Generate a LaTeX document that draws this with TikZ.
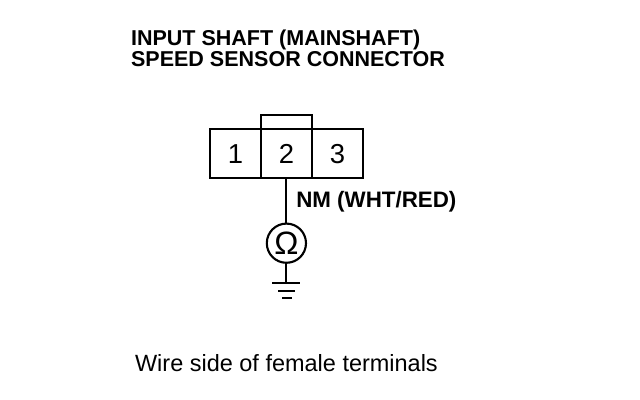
\documentclass[tikz,border=0pt]{standalone}
\usepackage{fontspec}
\setmainfont{Liberation Sans}
\usetikzlibrary{positioning}
\tikzset{
  pinbox/.style={draw, line width=1.5pt, outer sep=0pt, minimum width=1.275cm, minimum height=1.225cm, inner sep=0pt, font=\fontsize{19.5}{20}\selectfont},
  wire/.style={line width=1.5pt},
  titletext/.style={font=\bfseries\fontsize{15.3}{15.6}\selectfont, align=left, inner sep=0pt},
}
\begin{document}
\begin{tikzpicture}
\useasboundingbox (0,0) rectangle (16,10);
\node[titletext, anchor=north west] (title) at (3.27,9.27) {INPUT SHAFT (MAINSHAFT)\\SPEED SENSOR CONNECTOR};

\node[pinbox] (pin2) at (7.16,6.16) {2};
\node[pinbox, left=0pt of pin2] (pin1) {1};
\node[pinbox, right=0pt of pin2] (pin3) {3};
\coordinate (tabl) at (6.5225,7.125);
\coordinate (tabr) at (7.7975,7.125);
\draw[wire] (pin2.north west)--(tabl)--(tabr)--(pin2.north east);

\node[draw, circle, line width=1.5pt, outer sep=0pt, minimum size=0.98cm, inner sep=0pt, font=\fontsize{23}{24}\selectfont] (ohm) at (7.16,3.92) {Ω};
\draw[wire] (pin2.south)--(ohm.north);
\node[anchor=west, inner sep=0pt, font=\bfseries\fontsize{15.9}{16}\selectfont] (wirelabel) at (7.4,4.96) {NM (WHT/RED)};

\coordinate (gnd) at (7.16,2.92);
\draw[wire] (ohm.south)--(gnd);
\draw[wire] (6.8,2.92)--(7.5,2.92);
\draw[line width=1.3pt] (6.95,2.72)--(7.38,2.72);
\draw[line width=1.2pt] (7.05,2.55)--(7.3,2.55);

\node[anchor=west, inner sep=0pt, font=\fontsize{16.7}{18}\selectfont] (caption) at (3.37,0.92) {Wire side of female terminals};
\end{tikzpicture}
\end{document}
